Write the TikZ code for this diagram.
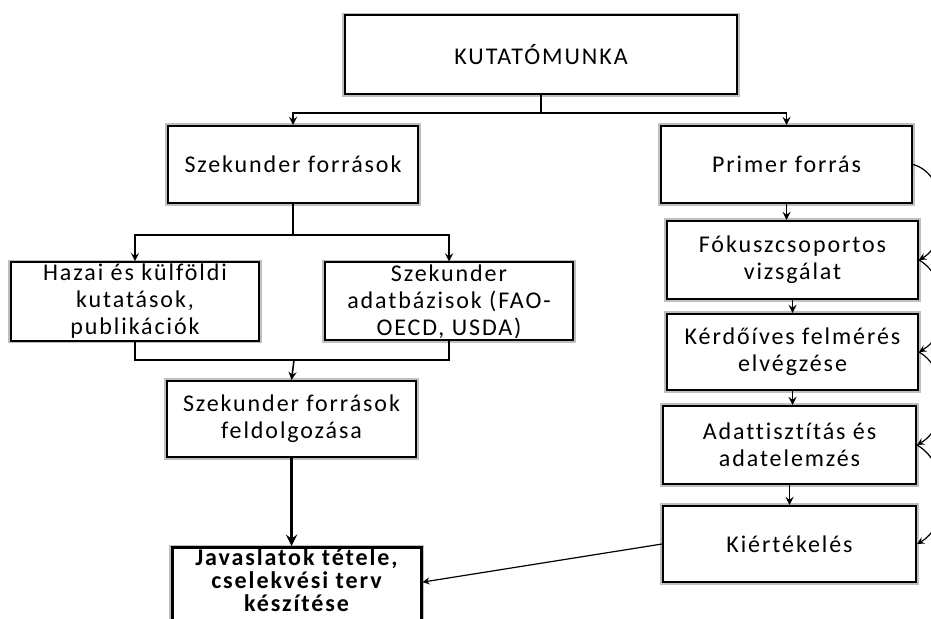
\documentclass[tikz,border=0pt]{standalone}
\usepackage{fontspec}
\setmainfont{Carlito}[LetterSpace=8, Ligatures=NoCommon]
\begin{document}
\begin{tikzpicture}[>=stealth, x=0.5pt, y=-0.5pt,
    doboz/.style={draw, line width=1pt, fill=white, align=center, inner sep=1pt,
        font=\fontsize{12}{13.5}\selectfont, preaction={draw=black!25, line width=2.6pt}},
    nyil/.style={->, line width=0.8pt}]
    \useasboundingbox (0,0) rectangle (931,619);

    % Felso doboz
    \node[doboz, minimum width=196pt, minimum height=39.5pt] (kutato) at (541,55) {KUTATÓMUNKA};

    % Bal oldal (szekunder)
    \node[doboz, minimum width=125pt, minimum height=38.5pt] (szek) at (293,164.5) {Szekunder források};
    \node[doboz, minimum width=124pt, minimum height=38.5pt] (hazai) at (135,301.5) {Hazai és külföldi\\kutatások,\\publikációk};
    \node[doboz, minimum width=124pt, minimum height=38.5pt] (adatb) at (449,301.5) {Szekunder\\adatbázisok (FAO-\\OECD, USDA)};
    \node[doboz, minimum width=124.5pt, minimum height=38pt] (feldolg) at (291.5,419) {Szekunder források\\feldolgozása};
    \node[doboz, line width=1.5pt, minimum width=124.5pt, anchor=north, text depth=12pt, inner sep=0.5pt,
        font=\fontsize{12}{11.6}\selectfont\bfseries] (javas) at (296.5,546) {Javaslatok tétele,\\cselekvési terv\\készítése};

    % Jobb oldal (primer)
    \node[doboz, minimum width=125.5pt, minimum height=38.5pt] (primer) at (786.5,164.5) {Primer forrás};
    \node[doboz, minimum width=125.5pt, minimum height=39pt] (fokusz) at (792.5,260) {Fókuszcsoportos\\vizsgálat};
    \node[doboz, minimum width=125.5pt, minimum height=38pt] (kerdo) at (792.5,352) {Kérdőíves felmérés\\elvégzése};
    \node[doboz, minimum width=126.5pt, minimum height=39pt] (adatt) at (789.5,445) {Adattisztítás és\\adatelemzés};
    \node[doboz, minimum width=126.5pt, minimum height=38pt] (kiert) at (789.5,544) {Kiértékelés};

    % Elagazasok
    \coordinate (ag1) at (541,113);
    \coordinate (ag2) at (293,235);
    \coordinate (ag3) at (294,360);
    \draw[line width=0.8pt] (kutato.south) -- (ag1);
    \draw[nyil] (ag1) -| (szek.north);
    \draw[nyil] (ag1) -| (primer.north);
    \draw[line width=0.8pt] (szek.south) -- (ag2);
    \draw[nyil] (ag2) -| (hazai.north);
    \draw[nyil] (ag2) -| (adatb.north);
    \draw[line width=0.8pt] (hazai.south) |- (ag3) -| (adatb.south);
    \draw[nyil] (ag3) -- (feldolg.north);
    \draw[->, line width=1.5pt] (feldolg.south) -- (feldolg.south |- javas.north);

    % Primer lanc
    \draw[nyil] (primer.south) -- (primer.south |- fokusz.north);
    \draw[nyil] (fokusz.south) -- (fokusz.south |- kerdo.north);
    \draw[nyil] (kerdo.south) -- (kerdo.south |- adatt.north);
    \draw[nyil] (adatt.south) -- (adatt.south |- kiert.north);
    \draw[->, line width=0.6pt] (kiert.west) -- ([yshift=5pt]javas.east);

    % Ivek a jobb szelen
    \draw[->, line width=0.6pt] (primer.east) to[out=-15, in=30] (fokusz.east);
    \draw[->, line width=0.6pt] (fokusz.east) to[out=-30, in=30] (kerdo.east);
    \draw[->, line width=0.6pt] (kerdo.east) to[out=-30, in=30] (adatt.east);
    \draw[->, line width=0.6pt] (adatt.east) to[out=-30, in=30] (kiert.east);
\end{tikzpicture}
\end{document}
